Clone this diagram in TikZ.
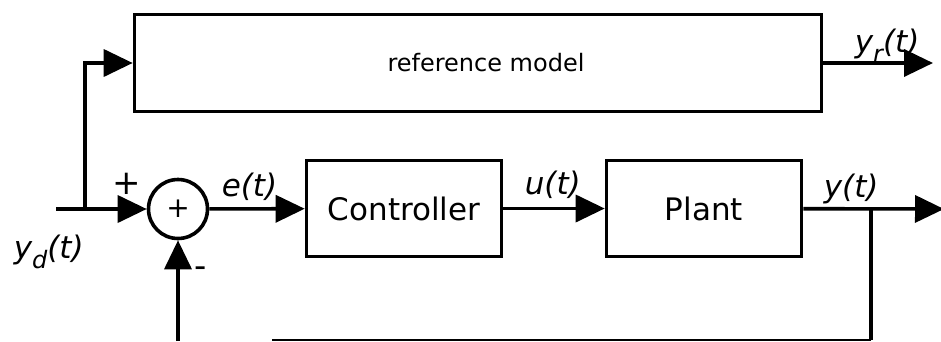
\documentclass[tikz,border=0pt]{standalone}
\usepackage{fontspec}
\setmainfont{DejaVu Sans}
\usetikzlibrary{arrows.meta}
\newcommand{\subsz}[1]{\raisebox{-10pt}{\fontsize{24}{24}\selectfont #1}}
\begin{document}
\begin{tikzpicture}[x=1pt,y=-1pt,
  line width=3.6pt,
  arr/.style={-{Triangle[length=29pt,width=27pt]}},
  blk/.style={draw,line width=3.6pt,inner sep=0pt,font=\fontsize{31}{31}\selectfont},
  lbl/.style={anchor=base west,inner sep=0pt,font=\fontsize{31}{31}\selectfont\itshape}]
\useasboundingbox (0,0) rectangle (941,341);
\node[blk,minimum width=687pt,minimum height=97pt,font=\fontsize{24}{24}\selectfont] (ref) at (478,63) {\hspace{16pt}reference model};
\node[blk,minimum width=195pt,minimum height=96pt] (ctrl) at (404,208.5) {Controller};
\node[blk,minimum width=195pt,minimum height=96pt] (plant) at (704,208.5) {Plant};
\node[draw,circle,minimum size=59pt,inner sep=0pt,font=\fontsize{28}{28}\selectfont] (sum) at (178,209) {+};
\coordinate (in) at (56,209);
\coordinate (split) at (85,209);
\coordinate (out) at (944,209);
\coordinate (yr) at (933,63);
\coordinate (fbsplit) at (871,209);
\coordinate (fbcorner) at (871,340);
\coordinate (fbend) at (272,340);
\coordinate (fbin) at (178,341);
\draw[arr] (in) -- (sum);
\draw[arr] (split) |- (ref.west);
\draw[arr] (sum) -- (ctrl);
\draw[arr] (ctrl) -- (plant);
\draw[arr] (plant) -- (out);
\draw[arr] (ref) -- (yr);
\draw (fbsplit) -- (fbcorner);
\draw[line width=1.5pt] (fbcorner) -- (fbend);
\draw[arr] (fbin) -- (sum);
\node[lbl] (e) at (220,196) {e(t)};
\node[lbl] (u) at (523,194) {u(t)};
\node[lbl] (y) at (822,197) {y(t)};
\node[lbl] (yrl) at (853,52) {y\subsz{r}(t)};
\node[lbl] (ydl) at (12,258) {y\subsz{d}(t)};
\node[font=\fontsize{34}{34}\selectfont] (plus) at (127,184) {+};
\node[font=\fontsize{34}{34}\selectfont] (minus) at (201,272) {-};
\end{tikzpicture}
\end{document}
